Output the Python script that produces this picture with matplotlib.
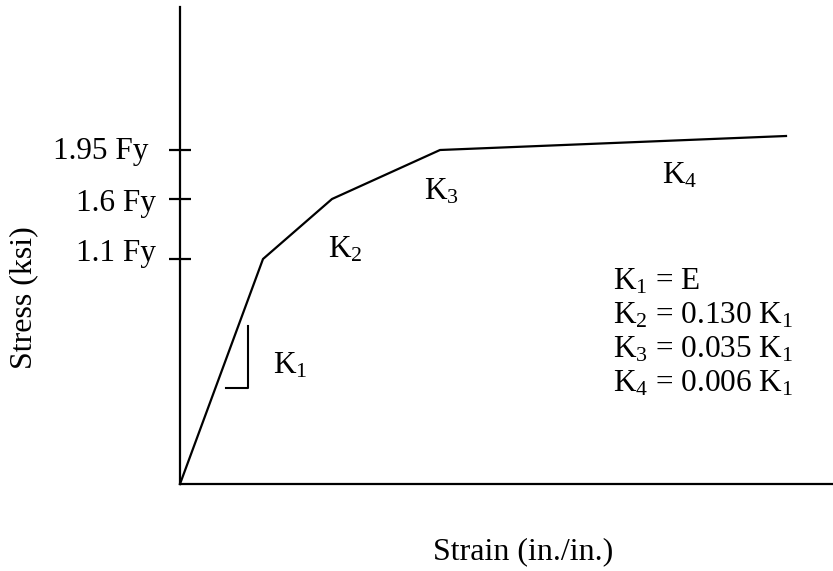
import matplotlib
matplotlib.use("Agg")
import matplotlib.pyplot as plt

plt.rcParams['font.family'] = ['Liberation Serif', 'DejaVu Serif']
plt.rcParams['mathtext.fontset'] = 'custom'
plt.rcParams['mathtext.rm'] = 'Liberation Serif'
plt.rcParams['mathtext.it'] = 'Liberation Serif:italic'

# schematic stress-strain curve (arbitrary units)
strain = [0, 83, 152, 260, 606]
stress = [0, 225, 285, 334, 348]

yield_levels = [225, 285, 334]
yield_labels = ['1.1 Fy', '1.6 Fy', '1.95 Fy']

# slope labels next to each branch
k_names = ['K$_1$', 'K$_2$', 'K$_3$', 'K$_4$']
k_x = [93, 148, 244, 482]
k_y = [111, 226, 285, 300]

# stiffness ratios listed at right
ratio_lines = ['K$_1$ = E',
               'K$_2$ = 0.130 K$_1$',
               'K$_3$ = 0.035 K$_1$',
               'K$_4$ = 0.006 K$_1$']
ratio_y = [194, 161, 127, 92]

fs = 22.5
fig = plt.figure(figsize=(8.33, 5.71), dpi=100)
ax = fig.add_axes([180/833, 87/571, 653/833, 477/571])
ax.set_xlim(0, 653)
ax.set_ylim(0, 477)

ax.plot(strain, stress, color='black', lw=1.6, clip_on=False)

# little slope triangle for K1
ax.plot([46, 68, 68], [96, 96, 158], color='black', lw=1.5)

for nm, x, y in zip(k_names, k_x, k_y):
    ax.text(x, y, nm, fontsize=fs, ha='left', va='baseline')
for line, y in zip(ratio_lines, ratio_y):
    ax.text(433, y, line, fontsize=fs, ha='left', va='baseline')

for s in ['top', 'right']:
    ax.spines[s].set_visible(False)
ax.spines['left'].set_linewidth(1.6)
ax.spines['bottom'].set_linewidth(1.6)

ax.set_xticks([])
ax.set_yticks(yield_levels)
ax.set_yticklabels([])
ax.tick_params(axis='y', direction='inout', length=16, width=1.6)

# tick labels sit a little off their ticks in the sketch
lab_dx = [-24, -24, -32]
lab_dy = [6, -4, -2]
for lv, lb, dx, dy in zip(yield_levels, yield_labels, lab_dx, lab_dy):
    ax.text(dx, lv + dy, lb, fontsize=fs, ha='right', va='center', clip_on=False)

fig.text(523/833, 1-552/571, 'Strain (in./in.)', fontsize=23, ha='center', va='center')
fig.text(24/833, 1-298/571, 'Stress (ksi)', fontsize=23, rotation=90, ha='center', va='center')

fig.savefig('out.png', dpi=100)
